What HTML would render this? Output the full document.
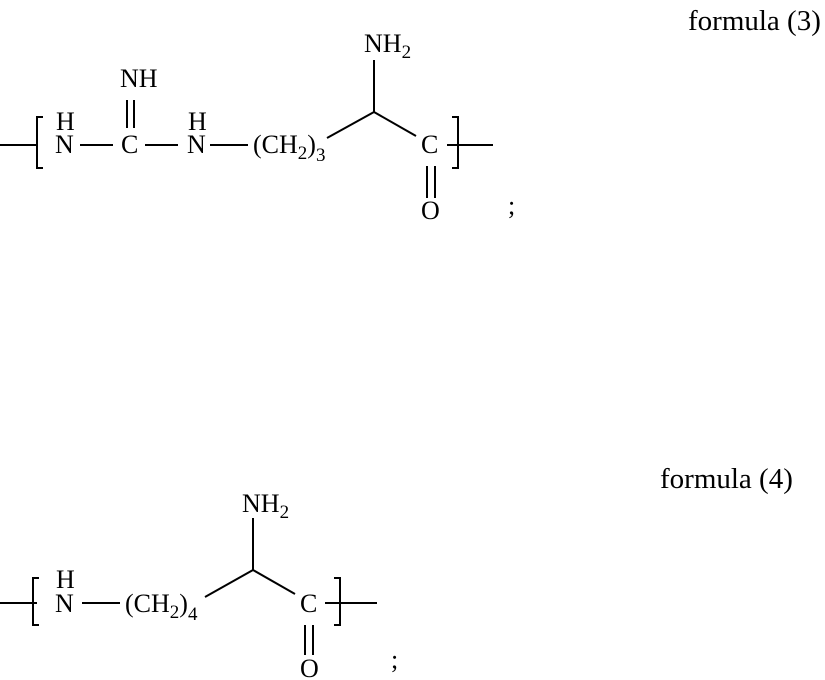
<!DOCTYPE html>
<html><head><meta charset="utf-8"><style>body{margin:0;background:#fff}svg{display:block}</style></head><body>
<svg width="825" height="680" xmlns="http://www.w3.org/2000/svg" font-family="Liberation Serif, serif" font-size="26" fill="#000">
<g stroke="#000" stroke-width="2" fill="none">
<line x1="0" y1="145" x2="37" y2="145"/>
<polyline points="43,117 37,117 37,168 43,168"/>
<line x1="80" y1="145" x2="113" y2="145"/>
<line x1="145" y1="145" x2="178" y2="145"/>
<line x1="127" y1="100" x2="127" y2="128"/><line x1="134" y1="100" x2="134" y2="128"/>
<line x1="210" y1="145" x2="248" y2="145"/>
<line x1="327" y1="138" x2="374" y2="112"/>
<line x1="374" y1="112" x2="374" y2="60"/>
<line x1="374" y1="112" x2="416" y2="136"/>
<line x1="427" y1="166" x2="427" y2="198"/><line x1="435" y1="166" x2="435" y2="198"/>
<line x1="447" y1="145" x2="493" y2="145"/>
<polyline points="452,117 458,117 458,168 452,168"/>

<line x1="0" y1="603" x2="37" y2="603"/>
<polyline points="39,578 33,578 33,625 39,625"/>
<line x1="82" y1="603" x2="120" y2="603"/>
<line x1="205" y1="597" x2="253" y2="570"/>
<line x1="253" y1="570" x2="253" y2="518"/>
<line x1="253" y1="570" x2="295" y2="594"/>
<line x1="305" y1="625" x2="305" y2="655"/><line x1="313" y1="625" x2="313" y2="655"/>
<line x1="325" y1="603" x2="377" y2="603"/>
<polyline points="334,578 340,578 340,625 334,625"/>
</g>
<text x="688" y="30" font-size="29">formula (3)</text>
<text x="56" y="130">H</text><text x="55" y="153">N</text>
<text x="121" y="153">C</text>
<text x="120" y="87">NH</text>
<text x="188" y="130">H</text><text x="187" y="153">N</text>
<text x="253" y="153">(CH<tspan font-size="19" dy="6">2</tspan><tspan dy="-6">)</tspan><tspan font-size="19" dy="8">3</tspan></text>
<text x="364" y="52">NH<tspan font-size="19" dy="6">2</tspan></text>
<text x="421" y="153">C</text>
<text x="421" y="219">O</text>
<text x="508" y="214">;</text>

<text x="660" y="488" font-size="29">formula (4)</text>
<text x="56" y="588">H</text><text x="55" y="612">N</text>
<text x="125" y="612">(CH<tspan font-size="19" dy="6">2</tspan><tspan dy="-6">)</tspan><tspan font-size="19" dy="8">4</tspan></text>
<text x="242" y="512">NH<tspan font-size="19" dy="6">2</tspan></text>
<text x="300" y="612">C</text>
<text x="300" y="677">O</text>
<text x="391" y="668">;</text>
</svg>
</body></html>
